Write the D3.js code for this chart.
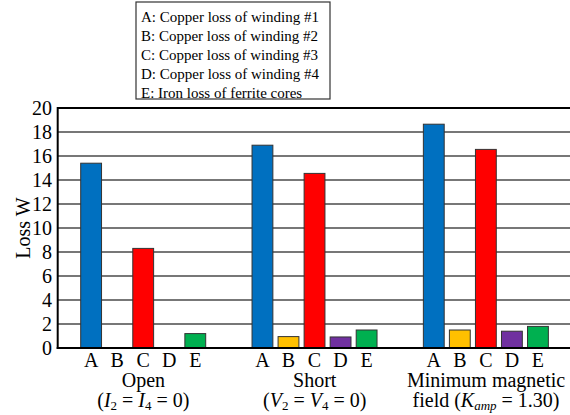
<!DOCTYPE html>
<html>
<head>
<meta charset="utf-8">
<script src="https://cdn.jsdelivr.net/npm/d3@7"></script>
<style>
  body { margin: 0; background: #fff; }
</style>
</head>
<body>
<div id="chart"></div>
<script>
// Data
var groups = ["Open", "Short", "Minimum"];
var letters = ["A", "B", "C", "D", "E"];
var legendLabels = [
    "A: Copper loss of winding #1",
    "B: Copper loss of winding #2",
    "C: Copper loss of winding #3",
    "D: Copper loss of winding #4",
    "E: Iron loss of ferrite cores"
];
var openValues = [15.4, 0, 8.3, 0, 1.2];
var shortValues = [16.9, 0.95, 14.55, 0.92, 1.5];
var minValues = [18.65, 1.5, 16.55, 1.4, 1.8];
var yTicks = [0, 2, 4, 6, 8, 10, 12, 14, 16, 18, 20];
var colors = ["#0070c0", "#ffc000", "#ff0000", "#7030a0", "#00b050"];

var w = 570;
var h = 415;
var plotLeft = 57.7, plotRight = 571.7, plotTop = 108, plotBottom = 348;

var svg = d3.select("#chart")
    .append("svg")
    .attr("width", w)
    .attr("height", h);

var x0 = d3.scaleBand()
    .domain(groups)
    .range([plotLeft, plotRight])
    .padding(0);

var x1 = d3.scaleBand()
    .domain(letters)
    .range([23, 148])
    .paddingInner(0.2)
    .paddingOuter(0);

var y = d3.scaleLinear()
    .domain([0, 20])
    .range([plotBottom, plotTop]);

// gridlines
svg.selectAll("line.grid")
    .data(yTicks.filter(function(d) { return d > 0; }))
    .enter()
    .append("line")
    .attr("class", "grid")
    .attr("x1", plotLeft)
    .attr("x2", w)
    .attr("y1", function(d) { return y(d); })
    .attr("y2", function(d) { return y(d); })
    .attr("stroke", function(d) { return d === 20 ? "#000" : "#4a4a4a"; })
    .attr("stroke-width", function(d) { return d === 20 ? 2 : 1.5; });

// bars
var series = [openValues, shortValues, minValues];
var barData = [];
groups.forEach(function(g, gi) {
    letters.forEach(function(l, li) {
        barData.push({ group: g, letter: l, value: series[gi][li], color: colors[li] });
    });
});

svg.selectAll("rect.bar")
    .data(barData.filter(function(d) { return d.value > 0; }))
    .enter()
    .append("rect")
    .attr("class", "bar")
    .attr("x", function(d) { return x0(d.group) + x1(d.letter); })
    .attr("y", function(d) { return y(d.value); })
    .attr("width", x1.bandwidth())
    .attr("height", function(d) { return plotBottom - y(d.value); })
    .attr("fill", function(d) { return d.color; })
    .attr("stroke", "#333")
    .attr("stroke-width", 1);

// axis lines
svg.append("line")
    .attr("x1", plotLeft).attr("x2", plotLeft)
    .attr("y1", plotTop - 1).attr("y2", plotBottom + 1)
    .attr("stroke", "#000").attr("stroke-width", 2);
svg.append("line")
    .attr("x1", plotLeft - 1).attr("x2", w)
    .attr("y1", plotBottom).attr("y2", plotBottom)
    .attr("stroke", "#000").attr("stroke-width", 2);

// y tick labels
svg.selectAll("text.ytick")
    .data(yTicks)
    .enter()
    .append("text")
    .attr("class", "ytick")
    .attr("x", 52)
    .attr("y", function(d) { return y(d); })
    .attr("dy", "0.35em")
    .attr("text-anchor", "end")
    .style("font-size", "20px")
    .text(function(d) { return d; });

// y axis title
svg.append("text")
    .attr("transform", "translate(23," + ((plotTop + plotBottom) / 2) + ") rotate(-90)")
    .attr("text-anchor", "middle")
    .attr("dy", "0.35em")
    .style("font-size", "20px")
    .text("Loss W");

// letter labels
svg.selectAll("text.letter")
    .data(barData)
    .enter()
    .append("text")
    .attr("class", "letter")
    .attr("x", function(d) { return x0(d.group) + x1(d.letter) + x1.bandwidth() / 2; })
    .attr("y", 367)
    .attr("text-anchor", "middle")
    .style("font-size", "20px")
    .text(function(d) { return d.letter; });

// group labels
function cx(g) { return x0(g) + x0.bandwidth() / 2; }

svg.append("text").attr("x", cx("Open")).attr("y", 387)
    .attr("text-anchor", "middle").style("font-size", "20px").text("Open");
svg.append("text").attr("x", cx("Short")).attr("y", 387)
    .attr("text-anchor", "middle").style("font-size", "20px").text("Short");
svg.append("text").attr("x", cx("Minimum")).attr("y", 387)
    .attr("text-anchor", "middle").style("font-size", "20px").text("Minimum magnetic");

// second line with subscripts
function subLine(xc, parts) {
    var t = svg.append("text").attr("x", xc).attr("y", 407)
        .attr("text-anchor", "middle").style("font-size", "20px");
    parts.forEach(function(p) {
        var s = t.append("tspan").text(p.t);
        if (p.i) s.style("font-style", "italic");
        if (p.sub) {
            s.attr("dy", "3").style("font-size", "13px");
        } else if (p.back) {
            s.attr("dy", "-3");
        }
    });
}

subLine(cx("Open"), [
    { t: "(" }, { t: "I", i: true }, { t: "2", sub: true },
    { t: " = ", back: true }, { t: "I", i: true }, { t: "4", sub: true },
    { t: " = 0)", back: true }
]);
subLine(cx("Short"), [
    { t: "(" }, { t: "V", i: true }, { t: "2", sub: true },
    { t: " = ", back: true }, { t: "V", i: true }, { t: "4", sub: true },
    { t: " = 0)", back: true }
]);
subLine(cx("Minimum"), [
    { t: "field (" }, { t: "K", i: true }, { t: "amp", sub: true, i: true },
    { t: " = 1.30)", back: true }
]);

// legend
var legend = svg.append("g").attr("transform", "translate(136,2)");
legend.append("rect")
    .attr("width", 194)
    .attr("height", 97)
    .attr("fill", "#fff")
    .attr("stroke", "#333")
    .attr("stroke-width", 1.2);
legend.selectAll("text")
    .data(legendLabels)
    .enter()
    .append("text")
    .attr("x", 5)
    .attr("y", function(d, i) { return 15 + i * 19; })
    .attr("dy", "0.35em")
    .style("font-size", "15px")
    .text(function(d) { return d; });

// serif font everywhere
svg.selectAll("text")
    .style("font-family", "'Liberation Serif'")
    .style("fill", "#000");
</script>
</body>
</html>
